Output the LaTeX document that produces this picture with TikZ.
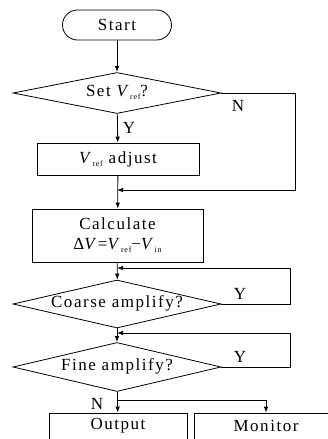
\documentclass[tikz,border=0pt]{standalone}
\usepackage{fontspec}
\setmainfont[LetterSpace=9]{Liberation Serif}
\usetikzlibrary{shapes.geometric, arrows.meta}

\newcommand{\vsub}[1]{\textit{V}\raisebox{-0.4ex}{\fontsize{8}{8}\selectfont #1}}
\newcommand{\dtext}[1]{\raisebox{-6pt}{\smash{\makebox[0pt]{#1}}}}

\tikzset{
  every node/.style={font=\fontsize{17}{20}\selectfont},
  flow/.style={line width=0.8pt, -{Latex[length=6pt, width=4.5pt]}},
  startbox/.style={draw, line width=0.8pt, rounded corners=15pt, minimum width=109pt, minimum height=30pt, inner sep=0pt},
  procbox/.style={draw, line width=0.8pt, minimum height=32pt, inner sep=0pt, align=center},
  decision/.style={draw, line width=0.8pt, diamond, inner sep=0pt, minimum width=208pt, minimum height=41pt},
  lbl/.style={inner sep=0pt}
}

\begin{document}
\begin{tikzpicture}[x=1pt, y=-1pt]
\useasboundingbox (0,0) rectangle (328,439);
\clip (0,0) rectangle (328,439);
% 框
\node[startbox] (start) at (117,25) {Start};
\node[decision] (setv) at (117,93) {\dtext{Set \vsub{ref}?}};
\node[procbox, minimum width=162pt] (adjust) at (118,159) {\vsub{ref} adjust};
\node[procbox, minimum width=171pt, minimum height=53pt] (calc) at (117.5,235.5) {Calculate\\[0pt]Δ\textit{V}=\vsub{ref}−\vsub{in}};
\node[decision, minimum height=48pt] (coarse) at (117,304) {\dtext{Coarse amplify?}};
\node[decision, minimum height=49pt] (fine) at (117,367) {\dtext{Fine amplify?}};
\node[procbox, minimum width=138pt, minimum height=32pt] (output) at (118,429) {};
\node[procbox, minimum width=144pt, minimum height=32pt] (monitor) at (266,429) {};
\node[lbl] at (118,426) {Output};
\node[lbl] at (266,426) {Monitor};
% 交点
\coordinate (j1) at (117,190);
\coordinate (j2) at (117,268);
\coordinate (j3) at (117,333);
\coordinate (j4) at (117,400);
% 连线
\draw[flow] (start) -- (setv);
\draw[flow] (setv) -- (adjust);
\draw[flow] (setv.east) -- (295,93) |- (j1);
\draw[flow] (adjust) -- (calc);
\draw[flow] (calc) -- (coarse);
\draw[flow] (coarse.east) -- (290,304) |- (j2);
\draw[flow] (coarse) -- (fine);
\draw[flow] (fine.east) -- (290,367) |- (j3);
\draw[flow] (fine) -- (output);
\draw[flow] (j4) -| (monitor.north);
% 标签
\node[lbl] at (129,128) {Y};
\node[lbl] at (238,106) {N};
\node[lbl] at (240,294) {Y};
\node[lbl] at (240,357) {Y};
\node[lbl] at (97,404) {N};
\end{tikzpicture}
\end{document}
